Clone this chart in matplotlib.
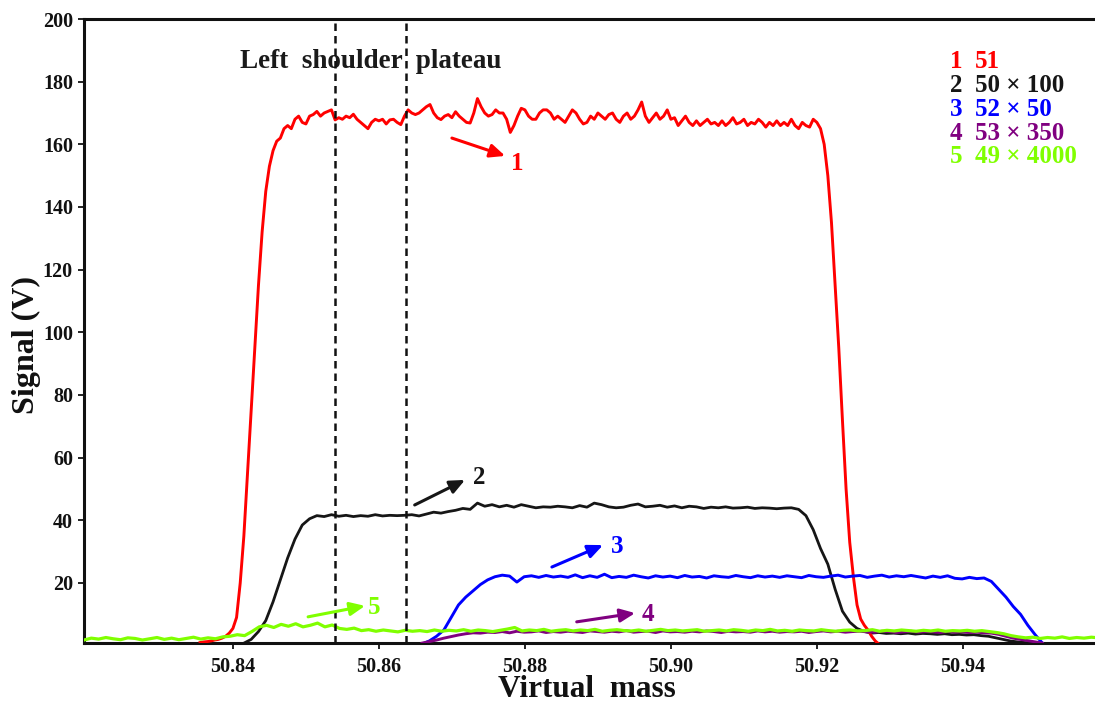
# peak shapes of the five scanned masses (virtual mass scan)

import matplotlib as mpl
mpl.use('Agg')
import matplotlib.pyplot as plt
import numpy as np

plt.rcParams['font.family'] = ['Liberation Serif', 'DejaVu Serif']
plt.rcParams['font.weight'] = 'bold'

# sampled signals: first mass and step of each trace, then the signal in V
red_x0, red_step = 50.8355, 0.0005
red_sig = [1.0, 1.2, 1.3, 1.5, 1.8, 2.0, 2.4, 3.0, 4.0, 5.5,
           9, 20, 35, 55, 75, 95, 115, 132, 145, 153,
           158, 161, 162, 165, 166, 165, 168, 169, 167, 166.5,
           169, 169.5, 170.5, 169, 170, 170.5, 171, 167.8, 168.5, 168,
           169, 168.5, 169.6, 168, 167, 166, 165, 167, 168, 167.5,
           168, 166.5, 167.8, 168, 167, 166.3, 169, 171, 170, 169.5,
           170, 171, 172, 172.7, 170, 168.5, 167.9, 169, 169.5, 168.5,
           170.4, 169, 168, 167, 166.8, 170, 174.6, 172, 170, 169,
           169.5, 171, 170, 170, 168, 163.8, 166, 169, 171.5, 171,
           169, 168, 168, 170, 171, 171, 170, 168, 169, 168,
           167, 169, 171, 170, 168, 166.5, 167, 169, 168, 170,
           169, 168, 169.5, 170, 168, 167, 169, 170, 168, 169,
           171, 173.5, 169, 167, 168.5, 170, 168, 169, 171, 168,
           168.5, 166, 167.5, 169, 167, 166, 167.5, 166, 167, 168,
           166.5, 167, 166, 167.5, 166, 167, 168.5, 166.5, 167, 168,
           166, 167, 166.5, 168, 167, 165.5, 167, 166, 167.5, 166,
           167, 166, 168, 166, 165, 167, 166, 165.5, 168, 167,
           165, 160, 150, 135, 115, 95, 72, 50, 33, 22,
           13, 8.5, 6.5, 5, 3, 1.5, 0.5]

black_x0, black_step = 50.8415, 0.001
black_sig = [0.8, 2, 4.5, 8, 14, 21, 28, 34, 38.5, 40.5,
             41.5, 41.2, 41.8, 41.3, 41.6, 41.2, 41.5, 41.3, 41.8, 41.4,
             41.6, 41.5, 41.6, 41.8, 41.4, 42, 42.6, 42.3, 42.8, 43.2,
             43.8, 43.5, 45.5, 44.5, 45, 44.3, 44.8, 44.2, 45, 44.5,
             44, 44.3, 44.2, 44.5, 44.3, 44, 44.7, 44.2, 45.5, 45,
             44.3, 44, 44.2, 44.8, 45.2, 44.3, 44.5, 44.8, 44.2, 44.6,
             44, 44.5, 44.3, 43.8, 44.2, 44, 44.3, 43.9, 44, 44.2,
             43.8, 44, 43.9, 43.7, 43.9, 44, 43.5, 41.5, 37, 31,
             26, 18, 11, 7.5, 5.5, 4.5, 4, 4.2, 3.9, 4,
             3.8, 4, 3.7, 3.9, 3.8, 3.6, 3.8, 3.5, 3.6, 3.4,
             3.5, 3.2, 3, 2.5, 2, 1.5, 1.2, 1, 0.8, 0.6]

blue_x0, blue_step = 50.8659, 0.001
blue_sig = [0.5, 1.5, 3, 5, 9, 13, 15.5, 17.5, 19.5, 21,
            22, 22.5, 22.2, 20.3, 22, 22.3, 21.8, 22.4, 21.9, 22.2,
            21.8, 22.6, 21.7, 22.3, 21.8, 22.8, 21.7, 22.1, 21.8, 22.5,
            22, 21.6, 22.3, 21.9, 22.2, 21.7, 22.4, 21.9, 22.1, 21.6,
            22.3, 22, 21.8, 22.4, 22, 21.7, 22.3, 21.9, 22.2, 21.8,
            22.3, 22, 21.7, 22.4, 22, 21.8, 22.2, 22.5, 21.9, 22.2,
            22.4, 21.8, 22.2, 22.5, 21.9, 22.3, 22, 22.4, 22, 21.6,
            22.2, 21.8, 22.3, 21.5, 21.3, 21.8, 21.4, 21.6, 20.5, 18,
            15.5, 12.5, 10, 6.5, 3.5, 0.8]

purple_x0, purple_step = 50.8659, 0.001
purple_sig = [0.8, 1.3, 1.8, 2.4, 2.9, 3.4, 3.8, 4.1, 4.0, 4.3,
              4.2, 4.5, 4.1, 4.6, 4.3, 4.4, 4.7, 4.2, 4.5, 4.3,
              4.6, 4.4, 4.2, 4.7, 4.5, 4.3, 4.6, 4.4, 4.8, 4.3,
              4.5, 4.6, 4.2, 4.7, 4.4, 4.5, 4.3, 4.6, 4.4, 4.7,
              4.5, 4.2, 4.6, 4.4, 4.5, 4.3, 4.7, 4.4, 4.6, 4.3,
              4.5, 4.4, 4.6, 4.2, 4.5, 4.7, 4.4, 4.6, 4.3, 4.5,
              4.6, 4.4, 4.3, 4.6, 4.5, 4.2, 4.4, 4.6, 4.3, 4.5,
              4.4, 4.2, 4.5, 4.3, 4.4, 4.2, 4.3, 4.1, 4.0, 3.6,
              3.0, 2.4, 2.0, 1.6, 1.2, 0.8]

green_x0, green_step = 50.8196, 0.001
green_sig = [1.8, 2.4, 2.1, 2.6, 2.2, 1.9, 2.5, 2.3, 1.8, 2.2,
             2.6, 2.0, 2.4, 1.9, 2.3, 2.7, 2.1, 2.5, 2.2, 2.8,
             3.0, 3.5, 3.2, 4.5, 6.0, 6.5, 5.8, 6.8, 6.2, 7.0,
             6.0, 6.5, 7.2, 6.0, 6.6, 5.5, 5.2, 5.6, 4.8, 5.1,
             4.6, 5.0, 4.7, 4.4, 4.9, 4.6, 4.8, 4.5, 5.0, 4.6,
             4.9, 4.7, 5.1, 4.6, 5.0, 4.8, 4.5, 4.9, 5.3, 5.8,
             4.7, 5.0, 4.8, 5.2, 4.6, 4.9, 5.1, 4.7, 5.0, 4.8,
             5.2, 4.6, 4.9, 5.1, 4.8, 4.7, 5.0, 4.6, 4.9, 5.2,
             4.8, 5.0, 4.7, 4.9, 5.1, 4.6, 4.8, 5.0, 4.7, 5.1,
             4.9, 4.6, 5.0, 4.8, 5.2, 4.7, 4.9, 4.6, 5.0, 4.8,
             4.7, 5.1, 4.8, 4.6, 4.9, 5.0, 4.7, 4.8, 5.1, 4.6,
             4.9, 4.7, 5.0, 4.8, 4.6, 4.9, 4.7, 5.0, 4.6, 4.8,
             4.7, 4.9, 4.6, 4.8, 4.5, 4.2, 3.8, 3.2, 2.8, 2.5,
             2.7, 2.3, 2.6, 2.4, 2.8, 2.3, 2.6, 2.4, 2.7, 2.5]

# legend entries: number, mass and gain
legend_num = ['1', '2', '3', '4', '5']
legend_txt = ['51', '50 \u00d7 100', '52 \u00d7 50', '53 \u00d7 350', '49 \u00d7 4000']

# left shoulder plateau limits
plateau = [50.854, 50.8637]

c_red = '#ff0000'
c_black = '#161616'
c_blue = '#0000ff'
c_purple = '#800080'
c_green = '#80ff00'
colors = [c_red, c_black, c_blue, c_purple, c_green]

fig = plt.figure(figsize=(10.95, 7.05), dpi=100)
ax = fig.add_axes([84/1095, 62/705, 1 - 84/1095, (643 - 19)/705])

def trace(x0, step, sig):
  return x0 + step*np.arange(len(sig)), np.array(sig)

x, y = trace(black_x0, black_step, black_sig)
ax.plot(x, y, color=c_black, lw=2.0, zorder=2)
x, y = trace(red_x0, red_step, red_sig)
ax.plot(x, y, color=c_red, lw=2.1, zorder=3)
x, y = trace(blue_x0, blue_step, blue_sig)
ax.plot(x, y, color=c_blue, lw=2.1, zorder=3)
x, y = trace(purple_x0, purple_step, purple_sig)
ax.plot(x, y, color=c_purple, lw=2.1, zorder=3)
x, y = trace(green_x0, green_step, green_sig)
ax.plot(x, y, color=c_green, lw=2.3, zorder=4)

for xv in plateau:
  ax.axvline(xv, color='#111111', lw=1.8, ls=(0, (3, 2)), zorder=5)

ax.text(50.8589, 186.3, 'Left  shoulder  plateau', ha='center', va='center',
        fontsize=19.5, fontweight='bold', color='#1a1a1a')

# arrows with numbers: tail, head, label position
arrows = [((50.8700, 162.0), (50.8773, 156.3), (50.8790, 154.0)),
          ((50.8649, 44.9), (50.8718, 52.9), (50.8737, 53.8)),
          ((50.8837, 25.1), (50.8907, 32.1), (50.8927, 31.8)),
          ((50.8871, 7.6), (50.8951, 10.4), (50.8968, 10.0)),
          ((50.8503, 9.2), (50.8581, 12.7), (50.8593, 12.3))]
for i, (tail, head, lab) in enumerate(arrows):
  ax.annotate('', xy=head, xytext=tail,
              arrowprops=dict(arrowstyle='-|>,head_length=0.9,head_width=0.4',
                              color=colors[i], lw=2.2, shrinkA=0, shrinkB=0), zorder=6)
  ax.text(lab[0], lab[1], legend_num[i], color=colors[i], fontsize=18,
          fontweight='bold', ha='center', va='center', zorder=6)

# coloured legend text in the upper right (baselines)
leg_y = [0.9215, 0.883, 0.8446, 0.806, 0.7692]
for i in range(len(legend_num)):
  ax.text(0.8566, leg_y[i], legend_num[i], transform=ax.transAxes, color=colors[i],
          fontsize=18, fontweight='bold', ha='left', va='baseline')
  ax.text(0.8813, leg_y[i], legend_txt[i], transform=ax.transAxes, color=colors[i],
          fontsize=18, fontweight='bold', ha='left', va='baseline')

ax.set_xlim(50.8196, 50.9581)
ax.set_ylim(0.85, 200)
ax.set_xticks([50.84, 50.86, 50.88, 50.90, 50.92, 50.94])
ax.set_xticklabels(['50.84', '50.86', '50.88', '50.90', '50.92', '50.94'])
ax.set_yticks(np.arange(20, 201, 20))

for s in ['left', 'bottom', 'top']:
  ax.spines[s].set_linewidth(2.2)
  ax.spines[s].set_color('#111111')
ax.spines['right'].set_visible(False)
ax.tick_params(direction='out', length=4, width=1.3, colors='#111111', pad=6)
ax.tick_params(axis='x', labelsize=14.5, pad=6)
ax.tick_params(axis='y', labelsize=14.5, pad=4)
for lab in ax.get_xticklabels() + ax.get_yticklabels():
  lab.set_fontweight('bold')

fig.text((84 + 1095)/2/1095 - 0.002, 8/705, 'Virtual  mass', ha='center', va='baseline',
         fontsize=22.5, fontweight='bold', color='#111111')
ax.set_ylabel('Signal (V)', fontsize=23, fontweight='bold', color='#111111')
ax.yaxis.set_label_coords(-0.043, 0.478)

plt.savefig('out.png', dpi=100)
plt.close()
